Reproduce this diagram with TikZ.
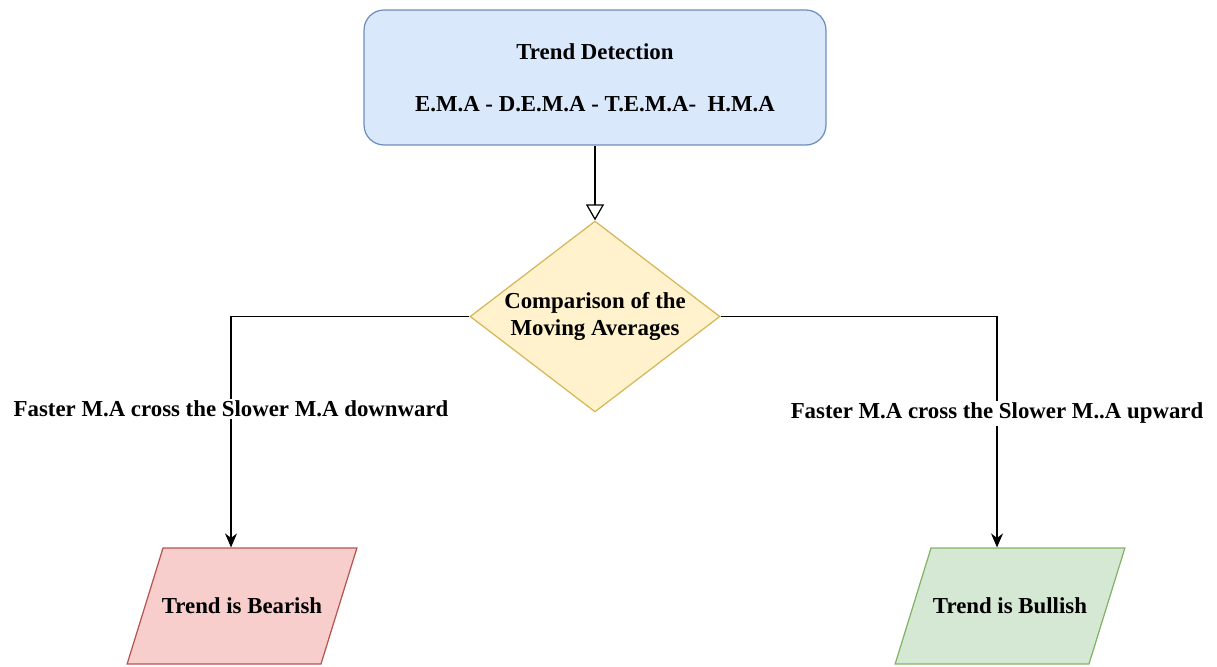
\documentclass[tikz,border=0pt]{standalone}
\usepackage{fontspec}
\setmainfont{Liberation Serif}
\usepackage{tikz}
\usetikzlibrary{shapes.geometric,arrows.meta}
\definecolor{blueFill}{HTML}{DAE8FC}
\definecolor{blueLine}{HTML}{6C8EBF}
\definecolor{yellowFill}{HTML}{FFF2CC}
\definecolor{yellowLine}{HTML}{D6B656}
\definecolor{redFill}{HTML}{F8CECC}
\definecolor{redLine}{HTML}{B85450}
\definecolor{greenFill}{HTML}{D5E8D4}
\definecolor{greenLine}{HTML}{82B366}
\newcommand{\resultbox}[1]{\makebox[3.16cm]{#1}}

\begin{document}
\begin{tikzpicture}[x=0.02cm,y=-0.02cm,line width=0.7pt,
            font=\fontsize{13}{15.5}\selectfont\bfseries,
            start node/.style={rectangle,rounded corners=0.4cm,draw=blueLine,fill=blueFill,
                minimum width=9.24cm,minimum height=2.7cm,align=center},
            decision node/.style={diamond,draw=yellowLine,fill=yellowFill,
                minimum width=5cm,minimum height=3.82cm,inner sep=0pt},
            result node/.style={trapezium,trapezium left angle=72.8,trapezium right angle=107.2,
                inner xsep=0pt,text height=10.5pt,text depth=1.5pt,inner ysep=27pt}]

        \useasboundingbox (0,0) rectangle (1217,666);

        \node[start node] (T) at (595,77.5) {Trend Detection\\[14pt]E.M.A - D.E.M.A - T.E.M.A-~~H.M.A};
        \node[decision node, label={[align=center,name=CT]center:Comparison of the\\Moving Averages}] (C) at (595,316.5) {};
        \node[result node, draw=redLine, fill=redFill] (B) at (242,606) {\resultbox{Trend is Bearish}};
        \node[result node, draw=greenLine, fill=greenFill] (U) at (1010,606) {\resultbox{Trend is Bullish}};

        \coordinate (Bin) at ([xshift=-0.22cm]B.north);
        \coordinate (Uin) at ([xshift=-0.26cm]U.north);

        \path (T) edge [-{Triangle[open,length=0.32cm,width=0.36cm]}] (C);
        \draw[-{Stealth[length=0.28cm,width=0.24cm]}] (C.west) -| node[pos=0.7,fill=white,inner sep=1pt] (BL) {Faster M.A cross the Slower M.A downward} (Bin);
        \draw[-{Stealth[length=0.28cm,width=0.24cm]}] (C.east) -| node[pos=0.71,fill=white,inner sep=1pt] (UL) {Faster M.A cross the Slower M..A upward} (Uin);

    \end{tikzpicture}
\end{document}
